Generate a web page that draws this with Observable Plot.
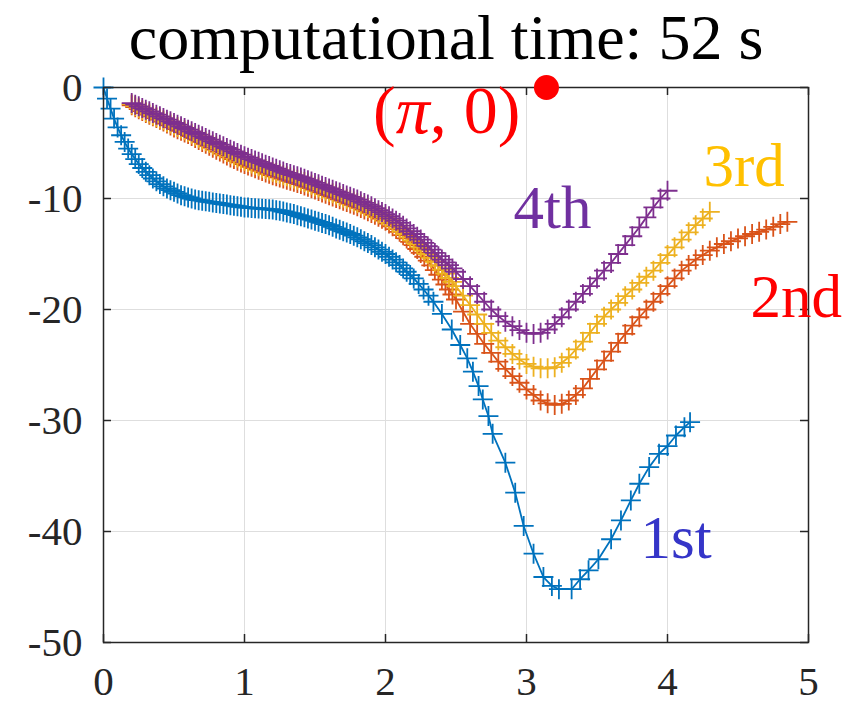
<!DOCTYPE html>
<html>
<head>
<meta charset="utf-8">
<script src="https://cdn.jsdelivr.net/npm/d3@7"></script>
<script src="https://cdn.jsdelivr.net/npm/@observablehq/plot@0.6"></script>
<style>
  html, body { margin: 0; padding: 0; background: #fff; }
  #chart { width: 846px; height: 704px; }
  #chart svg, #chart svg text, #chart svg tspan { font-family: "Liberation Serif", "Tinos", "Times New Roman", Times, "DejaVu Serif", serif !important; }
</style>
</head>
<body>
<div id="chart"></div>
<script>
// ---------- data ----------
const titleText = "computational time: 52 s";
const xTicks = [0, 1, 2, 3, 4, 5];
const yTicks = [-50, -40, -30, -20, -10, 0];

// 1st approximation (dense at the start, sparse markers in the valley)
const series1 = [
  [0.00,0.0],[0.025,-1.0],[0.05,-1.9],[0.075,-2.8],[0.10,-3.6],[0.125,-4.3],[0.15,-4.9],[0.175,-5.5],
  [0.200,-6.0],[0.225,-6.45],[0.250,-6.9],[0.275,-7.25],[0.300,-7.6],[0.325,-7.9],[0.350,-8.2],[0.375,-8.45],
  [0.400,-8.7],[0.425,-8.9],[0.450,-9.1],[0.475,-9.25],[0.500,-9.4],[0.525,-9.55],[0.550,-9.7],[0.575,-9.8],
  [0.600,-9.9],[0.625,-10.0],[0.650,-10.1],[0.675,-10.15],[0.700,-10.2],[0.725,-10.25],[0.750,-10.3],[0.775,-10.35],
  [0.800,-10.4],[0.825,-10.45],[0.850,-10.5],[0.875,-10.55],[0.900,-10.6],[0.925,-10.65],[0.950,-10.7],[0.975,-10.75],
  [1.000,-10.8],[1.025,-10.82],[1.050,-10.85],[1.075,-10.87],[1.100,-10.9],[1.125,-10.92],[1.150,-10.95],[1.175,-10.97],
  [1.200,-11.0],[1.225,-11.05],[1.250,-11.1],[1.275,-11.17],[1.300,-11.25],[1.325,-11.32],[1.350,-11.4],[1.375,-11.5],
  [1.400,-11.6],[1.425,-11.7],[1.450,-11.8],[1.475,-11.9],[1.500,-12.0],[1.525,-12.1],[1.550,-12.2],[1.575,-12.3],
  [1.600,-12.4],[1.625,-12.55],[1.650,-12.7],[1.675,-12.82],[1.700,-12.95],[1.725,-13.07],[1.750,-13.2],[1.775,-13.35],
  [1.800,-13.5],[1.825,-13.67],[1.850,-13.85],[1.875,-14.02],[1.900,-14.2],[1.925,-14.4],[1.950,-14.6],[1.975,-14.8],
  [2.000,-15.0],[2.025,-15.25],[2.050,-15.5],[2.075,-15.75],[2.100,-16.0],[2.125,-16.3],[2.150,-16.6],[2.175,-16.9],
  [2.200,-17.2],[2.235,-17.7],[2.27,-18.2],[2.305,-18.75],[2.34,-19.3],[2.40,-20.4],[2.47,-21.8],[2.53,-23.2],
  [2.58,-24.4],[2.62,-25.6],[2.66,-26.9],[2.69,-28.1],[2.73,-29.6],[2.76,-31.2],[2.85,-33.8],[2.92,-36.5],
  [2.98,-39.5],[3.05,-42.0],[3.12,-44.1],[3.18,-44.9],[3.23,-45.2],[3.32,-45.2],[3.38,-44.3],[3.44,-43.5],
  [3.51,-42.5],[3.60,-40.7],[3.67,-39.0],[3.74,-37.2],[3.80,-35.7],[3.87,-34.2],[3.94,-33.0],[4.00,-32.3],
  [4.06,-31.35],[4.12,-30.6],[4.16,-30.15]
];

// 2nd approximation
const series2 = [
  [0.200,-1.6],[0.225,-1.77],[0.250,-1.95],[0.275,-2.12],[0.300,-2.3],[0.325,-2.45],[0.350,-2.6],[0.375,-2.75],
  [0.400,-2.9],[0.425,-3.07],[0.450,-3.25],[0.475,-3.42],[0.500,-3.6],[0.525,-3.75],[0.550,-3.9],[0.575,-4.05],
  [0.600,-4.2],[0.625,-4.37],[0.650,-4.55],[0.675,-4.72],[0.700,-4.9],[0.725,-5.07],[0.750,-5.25],[0.775,-5.42],
  [0.800,-5.6],[0.825,-5.77],[0.850,-5.95],[0.875,-6.12],[0.900,-6.3],[0.925,-6.45],[0.950,-6.6],[0.975,-6.75],
  [1.000,-6.9],[1.025,-7.02],[1.050,-7.15],[1.075,-7.27],[1.100,-7.4],[1.125,-7.52],[1.150,-7.65],[1.175,-7.77],
  [1.200,-7.9],[1.225,-8.0],[1.250,-8.1],[1.275,-8.2],[1.300,-8.3],[1.325,-8.4],[1.350,-8.5],[1.375,-8.6],
  [1.400,-8.7],[1.425,-8.82],[1.450,-8.95],[1.475,-9.07],[1.500,-9.2],[1.525,-9.32],[1.550,-9.45],[1.575,-9.57],
  [1.600,-9.7],[1.625,-9.82],[1.650,-9.95],[1.675,-10.07],[1.700,-10.2],[1.725,-10.32],[1.750,-10.45],[1.775,-10.57],
  [1.800,-10.7],[1.825,-10.85],[1.850,-11.0],[1.875,-11.15],[1.900,-11.3],[1.925,-11.47],[1.950,-11.65],[1.975,-11.82],
  [2.000,-12.0],[2.025,-12.25],[2.050,-12.5],[2.075,-12.75],[2.100,-13.0],[2.125,-13.3],[2.150,-13.6],[2.175,-13.9],
  [2.200,-14.2],[2.225,-14.55],[2.250,-14.9],[2.275,-15.25],[2.300,-15.6],[2.325,-16.02],[2.350,-16.45],[2.375,-16.87],
  [2.400,-17.3],[2.425,-17.75],[2.450,-18.2],[2.475,-18.65],[2.500,-19.1],
  [2.55,-20.2],[2.60,-21.3],[2.65,-22.2],[2.70,-23.1],[2.75,-23.9],[2.80,-24.7],[2.85,-25.35],[2.90,-26.0],[2.95,-26.6],
  [3.00,-27.2],[3.05,-27.7],[3.10,-28.2],[3.15,-28.45],[3.20,-28.6],[3.25,-28.5],[3.30,-28.2],[3.35,-27.7],
  [3.40,-27.1],[3.45,-26.25],[3.50,-25.4],[3.55,-24.6],[3.60,-23.8],[3.65,-23.0],[3.70,-22.2],[3.75,-21.45],
  [3.80,-20.7],[3.85,-20.0],[3.90,-19.3],[3.95,-18.6],[4.00,-17.9],[4.05,-17.2],[4.10,-16.5],[4.15,-16.0],
  [4.20,-15.5],[4.25,-15.1],[4.30,-14.7],[4.35,-14.4],[4.40,-14.1],[4.45,-13.85],[4.50,-13.6],[4.55,-13.4],
  [4.60,-13.2],[4.65,-13.0],[4.70,-12.8],[4.75,-12.55],[4.80,-12.3],[4.85,-12.1]
];

// 3rd approximation
const series3 = [
  [0.200,-1.5],[0.225,-1.67],[0.250,-1.85],[0.275,-2.02],[0.300,-2.2],[0.325,-2.35],[0.350,-2.5],[0.375,-2.65],
  [0.400,-2.8],[0.425,-2.95],[0.450,-3.1],[0.475,-3.25],[0.500,-3.4],[0.525,-3.55],[0.550,-3.7],[0.575,-3.85],
  [0.600,-4.0],[0.625,-4.17],[0.650,-4.35],[0.675,-4.52],[0.700,-4.7],[0.725,-4.85],[0.750,-5.0],[0.775,-5.15],
  [0.800,-5.3],[0.825,-5.47],[0.850,-5.65],[0.875,-5.82],[0.900,-6.0],[0.925,-6.15],[0.950,-6.3],[0.975,-6.45],
  [1.000,-6.6],[1.025,-6.72],[1.050,-6.85],[1.075,-6.97],[1.100,-7.1],[1.125,-7.22],[1.150,-7.35],[1.175,-7.47],
  [1.200,-7.6],[1.225,-7.7],[1.250,-7.8],[1.275,-7.9],[1.300,-8.0],[1.325,-8.1],[1.350,-8.2],[1.375,-8.3],
  [1.400,-8.4],[1.425,-8.52],[1.450,-8.65],[1.475,-8.77],[1.500,-8.9],[1.525,-9.02],[1.550,-9.15],[1.575,-9.27],
  [1.600,-9.4],[1.625,-9.52],[1.650,-9.65],[1.675,-9.77],[1.700,-9.9],[1.725,-10.02],[1.750,-10.15],[1.775,-10.27],
  [1.800,-10.4],[1.825,-10.55],[1.850,-10.7],[1.875,-10.85],[1.900,-11.0],[1.925,-11.17],[1.950,-11.35],[1.975,-11.52],
  [2.000,-11.7],[2.025,-11.95],[2.050,-12.2],[2.075,-12.45],[2.100,-12.7],[2.125,-12.95],[2.150,-13.2],[2.175,-13.5],
  [2.200,-13.8],[2.225,-14.1],[2.250,-14.4],[2.275,-14.7],[2.300,-15.0],[2.325,-15.35],[2.350,-15.7],[2.375,-16.05],
  [2.400,-16.4],[2.425,-16.77],[2.450,-17.15],[2.475,-17.52],[2.500,-17.9],
  [2.55,-18.75],[2.60,-19.6],[2.65,-20.45],[2.70,-21.3],[2.75,-22.1],[2.80,-22.8],[2.85,-23.4],[2.90,-24.0],[2.95,-24.5],
  [3.00,-24.9],[3.05,-25.15],[3.10,-25.3],[3.15,-25.3],[3.20,-25.2],[3.25,-24.8],[3.30,-24.3],[3.35,-23.6],
  [3.40,-22.9],[3.45,-22.1],[3.50,-21.3],[3.55,-20.65],[3.60,-20.0],[3.65,-19.4],[3.70,-18.8],[3.75,-18.2],
  [3.80,-17.6],[3.85,-17.05],[3.90,-16.5],[3.95,-15.8],[4.00,-15.1],[4.05,-14.4],[4.10,-13.7],[4.15,-13.05],
  [4.20,-12.4],[4.25,-11.8],[4.30,-11.2]
];

// 4th approximation
const series4 = [
  [0.200,-1.4],[0.225,-1.55],[0.250,-1.7],[0.275,-1.85],[0.300,-2.0],[0.325,-2.15],[0.350,-2.3],[0.375,-2.45],
  [0.400,-2.6],[0.425,-2.75],[0.450,-2.9],[0.475,-3.05],[0.500,-3.2],[0.525,-3.35],[0.550,-3.5],[0.575,-3.65],
  [0.600,-3.8],[0.625,-3.95],[0.650,-4.1],[0.675,-4.25],[0.700,-4.4],[0.725,-4.55],[0.750,-4.7],[0.775,-4.85],
  [0.800,-5.0],[0.825,-5.15],[0.850,-5.3],[0.875,-5.45],[0.900,-5.6],[0.925,-5.75],[0.950,-5.9],[0.975,-6.05],
  [1.000,-6.2],[1.025,-6.32],[1.050,-6.45],[1.075,-6.57],[1.100,-6.7],[1.125,-6.82],[1.150,-6.95],[1.175,-7.07],
  [1.200,-7.2],[1.225,-7.32],[1.250,-7.45],[1.275,-7.57],[1.300,-7.7],[1.325,-7.8],[1.350,-7.9],[1.375,-8.0],
  [1.400,-8.1],[1.425,-8.22],[1.450,-8.35],[1.475,-8.47],[1.500,-8.6],[1.525,-8.72],[1.550,-8.85],[1.575,-8.97],
  [1.600,-9.1],[1.625,-9.22],[1.650,-9.35],[1.675,-9.47],[1.700,-9.6],[1.725,-9.72],[1.750,-9.85],[1.775,-9.97],
  [1.800,-10.1],[1.825,-10.25],[1.850,-10.4],[1.875,-10.55],[1.900,-10.7],[1.925,-10.87],[1.950,-11.05],[1.975,-11.22],
  [2.000,-11.4],[2.025,-11.6],[2.050,-11.8],[2.075,-12.0],[2.100,-12.2],[2.125,-12.45],[2.150,-12.7],[2.175,-12.95],
  [2.200,-13.2],[2.225,-13.45],[2.250,-13.7],[2.275,-14.0],[2.300,-14.3],[2.325,-14.6],[2.350,-14.9],[2.375,-15.2],
  [2.400,-15.5],[2.425,-15.75],[2.450,-16.0],[2.475,-16.3],[2.500,-16.6],
  [2.55,-17.25],[2.60,-17.9],[2.65,-18.6],[2.70,-19.3],[2.75,-20.0],[2.80,-20.6],[2.85,-21.1],[2.90,-21.5],[2.95,-21.85],
  [3.00,-22.1],[3.05,-22.2],[3.10,-22.1],[3.15,-21.8],[3.20,-21.3],[3.25,-20.7],[3.30,-20.0],[3.35,-19.3],
  [3.40,-18.6],[3.45,-17.9],[3.50,-17.2],[3.55,-16.5],[3.60,-15.8],[3.65,-15.0],[3.70,-14.2],[3.75,-13.4],
  [3.80,-12.6],[3.85,-11.7],[3.90,-10.8],[3.95,-10.0],[4.00,-9.3]
];

// reference point (π, 0)
const refPoint = [[Math.PI, 0]];

// annotation texts and their anchor points (data units)
const annoText = ["(π, 0)", "4th", "3rd", "2nd", "1st"];
const annoX = [2.957, 2.908, 4.255, 4.589, 3.809];
const annoY = [-4.14, -12.7, -8.83, -20.72, -42.43];

// ---------- styles ----------
const FONT = '"Liberation Serif", Tinos, "Times New Roman", Times, "DejaVu Serif", serif';
const seriesColors = ["#0072BD", "#D95319", "#EDB120", "#7E2F8E"];
const annoColors = ["#FF0000", "#7030A0", "#FFC000", "#FF0000", "#3535C8"];
const annoAnchor = ["end", "start", "start", "start", "start"];
const annoSize = [68, 61, 61, 61, 61];
const axisColor = "#262626";

const W = 846, H = 704;
const mL = 103, mR = 38, mT = 87, mB = 62;
const innerW = W - mL - mR, innerH = H - mT - mB;
const tickLen = 8;

// stroked "+" marker like MATLAB
const plusMarker = {
  draw(ctx, size) {
    const r = Math.sqrt(size / Math.PI);
    ctx.moveTo(-r, 0); ctx.lineTo(r, 0);
    ctx.moveTo(0, -r); ctx.lineTo(0, r);
  }
};

const seriesList = [series1, series2, series3, series4];
const seriesMarks = seriesList.flatMap((s, i) => [
  Plot.line(s, {x: d => d[0], y: d => d[1], stroke: seriesColors[i], strokeWidth: 1.8}),
  Plot.dot(s, {x: d => d[0], y: d => d[1], symbol: plusMarker, r: 10, stroke: seriesColors[i], fill: "none", strokeWidth: 1.8})
]);

const annoMarks = annoText.map((t, i) =>
  Plot.text([t], {
    x: () => annoX[i], y: () => annoY[i], text: d => d,
    fill: annoColors[i], fontSize: annoSize[i], textAnchor: annoAnchor[i], lineAnchor: "bottom",
    fontFamily: FONT
  })
);

const chart = Plot.plot({
  width: W, height: H,
  marginLeft: mL, marginRight: mR, marginTop: mT, marginBottom: mB,
  style: {background: "#fff", color: axisColor},
  x: {domain: [0, 5]},
  y: {domain: [-50, 0]},
  marks: [
    Plot.gridX(xTicks, {stroke: "#dedede", strokeOpacity: 1, strokeWidth: 1}),
    Plot.gridY(yTicks, {stroke: "#dedede", strokeOpacity: 1, strokeWidth: 1}),
    Plot.axisX(xTicks, {tickSize: 0, tickPadding: 23, fontSize: 41, tickFormat: d => String(d), label: null, fill: axisColor, fontFamily: FONT}),
    Plot.axisY(yTicks, {tickSize: 0, tickPadding: 21, fontSize: 41, tickFormat: d => String(d), label: null, fill: axisColor, fontFamily: FONT}),
    // inward ticks on all four sides
    Plot.tickX(xTicks, {x: d => d, insetTop: innerH - tickLen, stroke: axisColor, strokeWidth: 1.5}),
    Plot.tickX(xTicks, {x: d => d, insetBottom: innerH - tickLen, stroke: axisColor, strokeWidth: 1.5}),
    Plot.tickY(yTicks, {y: d => d, insetRight: innerW - tickLen, stroke: axisColor, strokeWidth: 1.5}),
    Plot.tickY(yTicks, {y: d => d, insetLeft: innerW - tickLen, stroke: axisColor, strokeWidth: 1.5}),
    ...seriesMarks,
    Plot.frame({stroke: axisColor, strokeWidth: 1.5}),
    Plot.dot(refPoint, {x: d => d[0], y: d => d[1], r: 12.5, fill: "#FF0000", stroke: "none"}),
    ...annoMarks,
    Plot.text([titleText], {frameAnchor: "top", dx: -10, dy: -29, lineAnchor: "bottom", fontSize: 64, fill: "#000", fontFamily: FONT})
  ]
});

chart.setAttribute("font-family", FONT);
chart.style.fontFamily = FONT;

// italic π in the "(π, 0)" annotation
chart.querySelectorAll("text").forEach(t => {
  if (t.textContent === "(π, 0)") {
    t.innerHTML = '(<tspan font-style="italic">π</tspan>, 0)';
  }
});

document.getElementById("chart").appendChild(chart);
</script>
</body>
</html>
